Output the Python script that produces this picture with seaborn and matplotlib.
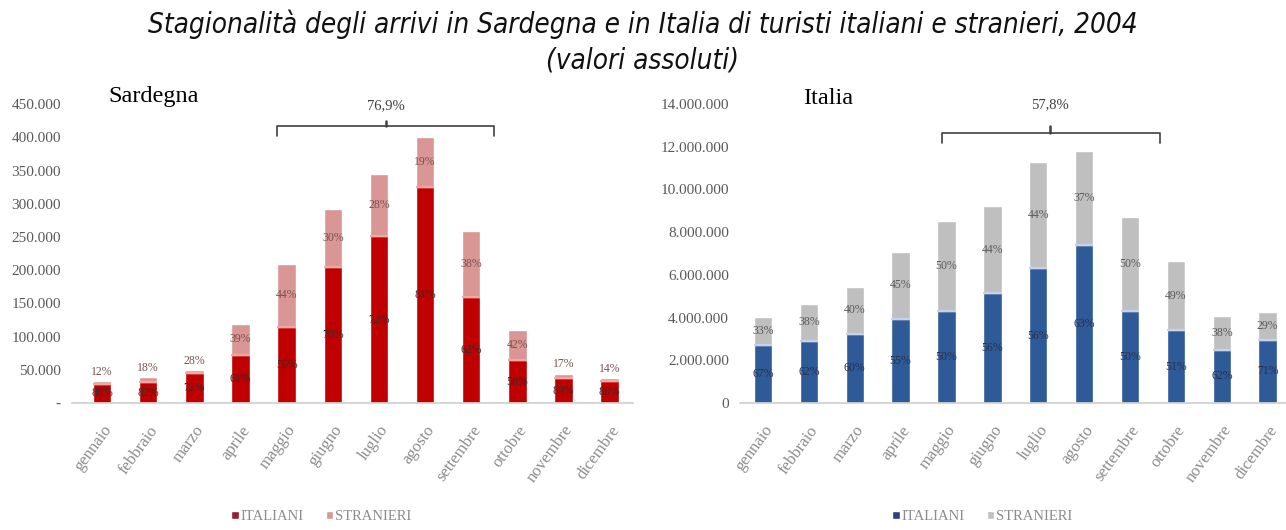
import matplotlib
matplotlib.use("Agg")
import matplotlib.pyplot as plt
import seaborn as sns
import pandas as pd
from matplotlib.patches import Patch

months = ["gennaio", "febbraio", "marzo", "aprile", "maggio", "giugno",
          "luglio", "agosto", "settembre", "ottobre", "novembre", "dicembre"]

# Sardegna (absolute arrivals)
sar_ita = [29000, 31500, 44500, 72500, 115000, 205000, 251000, 324500, 160000, 64000, 37500, 32500]
sar_str = [4000, 7000, 5000, 46500, 95000, 86500, 94500, 75500, 98500, 45500, 6500, 5000]
sar_pct_ita = ["88%", "82%", "72%", "61%", "56%", "70%", "72%", "81%", "62%", "58%", "83%", "86%"]
sar_pct_str = ["12%", "18%", "28%", "39%", "44%", "30%", "28%", "19%", "38%", "42%", "17%", "14%"]

# Italia (absolute arrivals)
ita_ita = [2730000, 2910000, 3240000, 3930000, 4290000, 5140000, 6310000, 7400000, 4290000, 3400000, 2490000, 2960000]
ita_str = [1320000, 1730000, 2210000, 3160000, 4250000, 4090000, 4990000, 4400000, 4410000, 3260000, 1590000, 1290000]
ita_pct_ita = ["67%", "62%", "60%", "55%", "50%", "56%", "56%", "63%", "50%", "51%", "62%", "71%"]
ita_pct_str = ["33%", "38%", "40%", "45%", "50%", "44%", "44%", "37%", "50%", "49%", "38%", "29%"]

sar_ticks = [0, 50000, 100000, 150000, 200000, 250000, 300000, 350000, 400000, 450000]
sar_ticklabels = ["-", "50.000", "100.000", "150.000", "200.000", "250.000", "300.000",
                  "350.000", "400.000", "450.000"]
ita_ticks = [0, 2000000, 4000000, 6000000, 8000000, 10000000, 12000000, 14000000]
ita_ticklabels = ["0", "2.000.000", "4.000.000", "6.000.000", "8.000.000", "10.000.000",
                  "12.000.000", "14.000.000"]

title1 = "Stagionalità degli arrivi in Sardegna e in Italia di turisti italiani e stranieri, 2004"
title2 = "(valori assoluti)"

sns.set_theme(style="white")
plt.rcParams["font.family"] = ["Liberation Serif", "DejaVu Serif"]

fig = plt.figure(figsize=(12.86, 5.30), dpi=100)
axL = fig.add_axes([0.056, 0.2396, 0.436, 0.564])
axR = fig.add_axes([0.5754, 0.2396, 0.4246, 0.564])

tick_grey = "#595959"


def draw(ax, ita, stra, pct_i, pct_s, c_ita, c_str, c_sep, ticks, ticklabels, ymax,
         bracket, small_thr, lab_col, str_col):
    tot = [a + b for a, b in zip(ita, stra)]
    df = pd.DataFrame({"mese": months, "tot": tot, "ita": ita})
    sns.barplot(data=df, x="mese", y="tot", color=c_str, saturation=1, width=0.4, ax=ax)
    sns.barplot(data=df, x="mese", y="ita", color=c_ita, saturation=1, width=0.4, ax=ax)
    xs = list(range(len(months)))
    ax.hlines(ita, [x - 0.2 for x in xs], [x + 0.2 for x in xs], color=c_sep, lw=1.6)
    ax.set_ylim(0, ymax)
    ax.set_yticks(ticks)
    ax.set_yticklabels(ticklabels, fontsize=11, color=tick_grey)
    ax.set_xlabel("")
    ax.set_ylabel("")
    for s in ["top", "right", "left"]:
        ax.spines[s].set_visible(False)
    ax.spines["bottom"].set_color("#d0d0d0")
    ax.tick_params(axis="y", length=0, pad=8)
    ax.tick_params(axis="x", length=0, pad=14)
    plt.setp(ax.get_xticklabels(), rotation=54, ha="right", rotation_mode="anchor",
             fontsize=12, color="#8c8c8c")
    for i in xs:
        ax.text(i, ita[i] / 2, pct_i[i], ha="center", va="center", fontsize=8.5,
                color=lab_col)
        if stra[i] < small_thr:
            ax.text(i, tot[i] + ymax * 0.012, pct_s[i], ha="center", va="bottom",
                    fontsize=8.5, color=str_col)
        else:
            ax.text(i, ita[i] + stra[i] / 2, pct_s[i], ha="center", va="center",
                    fontsize=8.5, color=str_col)
    x0, x1, xc, yl, yd, yu, yt, lab = bracket
    ax.plot([x0, x0, x1, x1], [yd, yl, yl, yd], color="#404040", lw=1.2)
    ax.plot([xc, xc], [yl, yu], color="#404040", lw=1.8)
    ax.text(xc, yt, lab, ha="center", va="center", fontsize=10.5, color="#404040")


draw(axL, sar_ita, sar_str, sar_pct_ita, sar_pct_str, "#C00000", "#D99694", "#F4A6A0",
     sar_ticks, sar_ticklabels, 450000,
     (3.8, 8.5, 6.15, 417000, 402000, 425000, 447000, "76,9%"), 10000, "#3a2a2a", "#7a5050")
axL.set_xlim(-0.65, 11.5)
axL.text(0.064, 1.025, "Sardegna", transform=axL.transAxes, fontsize=17.5, color="black",
         ha="left", va="center")

draw(axR, ita_ita, ita_str, ita_pct_ita, ita_pct_str, "#2E5A97", "#BFBFBF", "#C5D3EA",
     ita_ticks, ita_ticklabels, 14000000,
     (3.9, 8.65, 6.25, 12640000, 12200000, 12980000, 13960000, "57,8%"), 0, "#263050", "#5a5a5a")
axR.set_xlim(-0.5, 11.4)
axR.text(0.115, 1.02, "Italia", transform=axR.transAxes, fontsize=17.5, color="black",
         ha="left", va="center")

tfam = ["DejaVu Sans"]
fig.text(0.5, 0.955, title1, ha="center", va="center", fontsize=20, style="italic",
         family=tfam, stretch="condensed", color="#111111")
fig.text(0.5, 0.885, title2, ha="center", va="center", fontsize=20, style="italic",
         family=tfam, stretch="condensed", color="#111111")

for cx, ci, cs in [(0.25, "#9B1B30", "#D99694"), (0.764, "#2F3F7F", "#BFBFBF")]:
    handles = [Patch(facecolor=ci, label="ITALIANI"), Patch(facecolor=cs, label="STRANIERI")]
    fig.legend(handles=handles, loc="center", bbox_to_anchor=(cx, 0.025), ncol=2,
               frameon=False, fontsize=10.5, handlelength=0.5, handleheight=0.5,
               handletextpad=0.15, columnspacing=1.5, labelcolor="#8c8c8c")

fig.savefig("out.png", dpi=100, facecolor="white")
